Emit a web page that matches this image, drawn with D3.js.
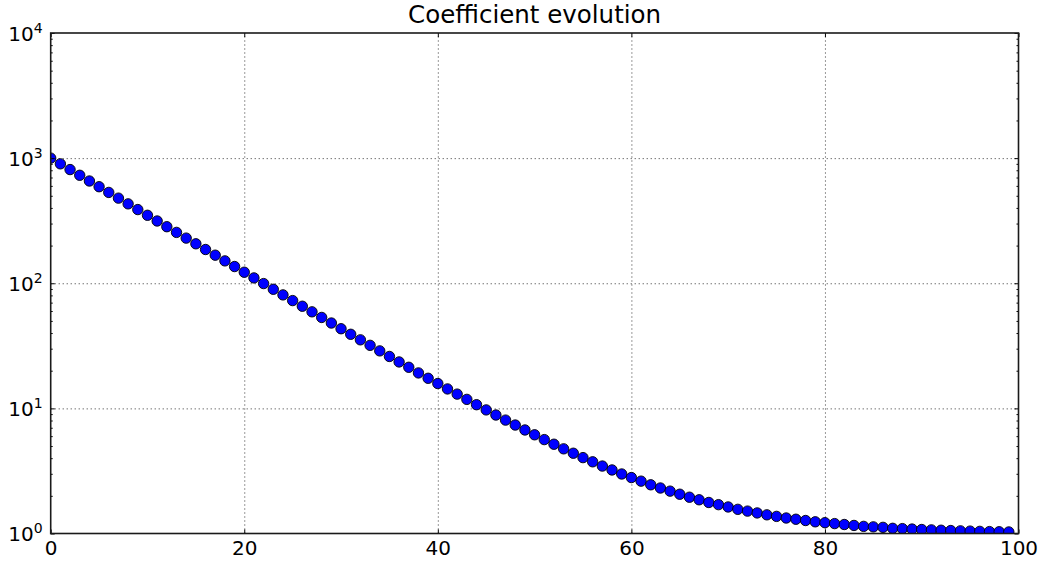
<!DOCTYPE html>
<html>
<head>
<meta charset="utf-8">
<script src="https://cdn.jsdelivr.net/npm/d3@7"></script>
<style>
  html, body { margin: 0; padding: 0; background: #fff; }
  svg { display: block; }
  text { font-family: "DejaVu Sans", sans-serif; fill: #000; }
</style>
</head>
<body>
<script>
// Iteration index and coefficient value at each step
const steps = d3.range(0, 100);
const coefficients = [
  1000, 900.1, 810.2, 729.3, 656.4, 590.9, 531.9, 478.8, 431.0, 388.0,
  349.3, 314.5, 283.1, 254.9, 229.5, 206.7, 186.1, 167.6, 150.9, 136.0,
  122.5, 110.3, 99.4, 89.5, 80.7, 72.7, 65.5, 59.1, 53.3, 48.1,
  43.3, 39.1, 35.3, 31.9, 28.8, 26.0, 23.5, 21.3, 19.2, 17.4,
  15.8, 14.3, 13.0, 11.8, 10.7, 9.72, 8.85, 8.06, 7.36, 6.72,
  6.15, 5.63, 5.17, 4.75, 4.38, 4.04, 3.74, 3.46, 3.22, 2.99,
  2.80, 2.62, 2.45, 2.31, 2.18, 2.06, 1.95, 1.86, 1.77, 1.70,
  1.63, 1.56, 1.51, 1.46, 1.41, 1.37, 1.33, 1.30, 1.27, 1.24,
  1.22, 1.20, 1.18, 1.16, 1.14, 1.13, 1.12, 1.10, 1.094, 1.085,
  1.076, 1.069, 1.062, 1.056, 1.050, 1.045, 1.040, 1.036, 1.033, 1.029
];
const xTicks = [0, 20, 40, 60, 80, 100];
const yTicks = [1, 10, 100, 1000, 10000];
const yTickExponents = ["0", "1", "2", "3", "4"];
const titleText = "Coefficient evolution";

const W = 1040, H = 561;
const margin = { left: 50.7, right: 21.5, top: 33, bottom: 27.5 };
const x0 = margin.left, x1 = W - margin.right;
const y0 = margin.top, y1 = H - margin.bottom;

const x = d3.scaleLinear().domain([0, 100]).range([x0, x1]);
const y = d3.scaleLog().domain([1, 10000]).range([y1, y0]);

const minorY = [];
for (let d = 1; d < 10000; d *= 10) for (let m = 2; m <= 9; m++) minorY.push(d * m);

const svg = d3.select("body").append("svg").attr("width", W).attr("height", H);

svg.append("defs").append("clipPath").attr("id", "plot-clip")
  .append("rect").attr("x", x0).attr("y", y0).attr("width", x1 - x0).attr("height", y1 - y0);

// dotted grid at major ticks
const gridStyle = g => {
  g.select(".domain").remove();
  g.selectAll(".tick line").attr("stroke", "#000").attr("stroke-width", 1)
    .attr("stroke-dasharray", "1,3").attr("opacity", 0.8);
};
svg.append("g").attr("transform", `translate(0,${y1})`)
  .call(d3.axisBottom(x).tickValues(xTicks.slice(1, -1)).tickSize(-(y1 - y0)).tickFormat(""))
  .call(gridStyle);
svg.append("g").attr("transform", `translate(${x0},0)`)
  .call(d3.axisLeft(y).tickValues(yTicks.slice(1, -1)).tickSize(-(x1 - x0)).tickFormat(""))
  .call(gridStyle);

// markers
svg.append("g").attr("clip-path", "url(#plot-clip)")
  .selectAll("circle").data(steps).join("circle")
  .attr("cx", i => x(i))
  .attr("cy", i => y(coefficients[i]))
  .attr("r", 5.2)
  .attr("fill", "#0000ff")
  .attr("stroke", "#000")
  .attr("stroke-width", 0.9);

// tick styling helpers
const tickStyle = g => {
  g.select(".domain").remove();
  g.selectAll(".tick line").attr("stroke", "#000").attr("stroke-width", 1);
};

// bottom axis with labels
svg.append("g").attr("transform", `translate(0,${y1})`)
  .call(d3.axisBottom(x).tickValues(xTicks).tickSize(-4).tickPadding(7).tickFormat(d3.format("d")))
  .call(tickStyle)
  .selectAll("text").attr("font-size", 20).attr("font-family", "DejaVu Sans").attr("fill", "#111");
// top ticks
svg.append("g").attr("transform", `translate(0,${y0})`)
  .call(d3.axisTop(x).tickValues(xTicks).tickSize(-4).tickFormat(""))
  .call(tickStyle);

// left major ticks with power-of-ten labels
const left = svg.append("g").attr("transform", `translate(${x0},0)`)
  .call(d3.axisLeft(y).tickValues(yTicks).tickSize(-4).tickPadding(8).tickFormat(""))
  .call(tickStyle);
left.selectAll(".tick text").each(function(d, i) {
  const t = d3.select(this).attr("font-size", 20).attr("font-family", "DejaVu Sans")
    .attr("fill", "#111").attr("dy", "0.36em");
  t.append("tspan").text("10");
  t.append("tspan").attr("font-size", 14).attr("dy", -8).text(yTickExponents[i]);
});
// left minor ticks
svg.append("g").attr("transform", `translate(${x0},0)`)
  .call(d3.axisLeft(y).tickValues(minorY).tickSize(-2).tickFormat(""))
  .call(tickStyle);
// right major + minor ticks
svg.append("g").attr("transform", `translate(${x1},0)`)
  .call(d3.axisRight(y).tickValues(yTicks).tickSize(-4).tickFormat(""))
  .call(tickStyle);
svg.append("g").attr("transform", `translate(${x1},0)`)
  .call(d3.axisRight(y).tickValues(minorY).tickSize(-2).tickFormat(""))
  .call(tickStyle);

// frame
svg.append("rect").attr("x", x0).attr("y", y0).attr("width", x1 - x0).attr("height", y1 - y0)
  .attr("fill", "none").attr("stroke", "#1a1a1a").attr("stroke-width", 1.6);

// title
svg.append("text").attr("x", (x0 + x1) / 2).attr("y", 23)
  .attr("text-anchor", "middle").attr("font-size", 24.5).attr("fill", "#111").text(titleText);
</script>
</body>
</html>
